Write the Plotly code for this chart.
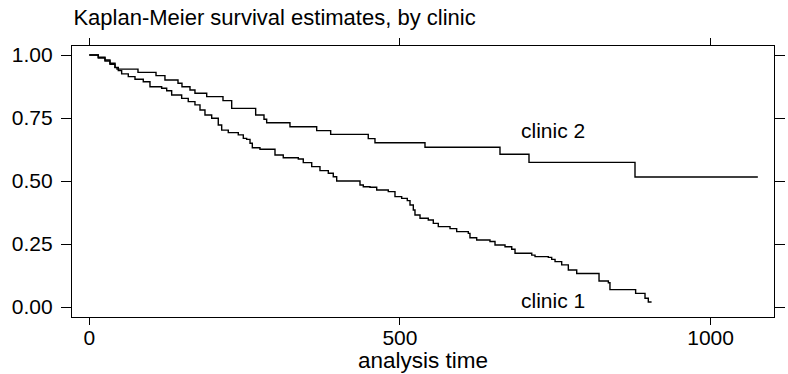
import plotly.graph_objects as go

# Clinic 1: step times (analysis time) and survival after each step
c1_time = [0, 14.5, 25.3, 33.3, 41.4, 46.7, 52.1, 62.8, 73.6, 86.9, 97.7, 116.5, 124.6,
           132.6, 148.7, 159.3, 170.1, 178.2, 186.2, 197.0, 207.6, 213.1, 223.7, 239.8,
           247.9, 253.3, 258.7, 262.4, 274.7, 298.9, 312.2, 336.4, 344.4, 358.0, 371.3,
           384.7, 392.7, 398.2, 435.7, 441.0, 451.8, 462.6, 481.2, 492.0, 502.8, 511.8,
           516.2, 521.5, 524.2, 532.3, 545.6, 553.7, 561.7, 580.6, 591.3, 610.0, 612.7,
           623.5, 644.9, 653.0, 669.1, 679.9, 685.2, 712.1, 717.4, 738.8, 744.2, 749.6,
           760.3, 771.0, 784.5, 820.4, 835.4, 838.0, 879.3, 894.4, 899.7, 905.0]
c1_surv = [1.0, 0.991, 0.980, 0.967, 0.951, 0.938, 0.925, 0.914, 0.904, 0.894, 0.874, 0.868,
           0.858, 0.841, 0.828, 0.815, 0.802, 0.782, 0.762, 0.749, 0.722, 0.702, 0.692,
           0.683, 0.669, 0.665, 0.650, 0.632, 0.626, 0.603, 0.592, 0.587, 0.573, 0.557,
           0.541, 0.531, 0.517, 0.500, 0.484, 0.477, 0.475, 0.464, 0.458, 0.438, 0.431,
           0.422, 0.405, 0.385, 0.365, 0.352, 0.345, 0.332, 0.319, 0.311, 0.299, 0.292,
           0.275, 0.266, 0.260, 0.246, 0.239, 0.229, 0.213, 0.206, 0.200, 0.197, 0.189,
           0.180, 0.167, 0.147, 0.133, 0.103, 0.096, 0.069, 0.054, 0.035, 0.020, 0.020]

# Clinic 2
c2_time = [0, 14.5, 25.3, 33.3, 41.4, 44.6, 78.4, 107.4, 121.8, 142.8, 149.2, 162.1, 170.1,
           189.0, 215.2, 229.2, 267.8, 281.2, 285.5, 323.0, 366.0, 388.5, 449.0, 459.8,
           540.3, 661.0, 707.7, 878.3, 1076.0]
c2_surv = [1.0, 0.988, 0.976, 0.963, 0.950, 0.944, 0.931, 0.918, 0.901, 0.888, 0.874, 0.861,
           0.848, 0.835, 0.819, 0.788, 0.762, 0.745, 0.731, 0.715, 0.700, 0.685, 0.668,
           0.652, 0.634, 0.606, 0.574, 0.516, 0.516]

x_ticks = [0, 500, 1000]
y_ticks = [0, 0.25, 0.5, 0.75, 1.0]
y_labels = ["0.00", "0.25", "0.50", "0.75", "1.00"]

labels = ["clinic 1", "clinic 2"]
label_x = [746, 746]
label_y = [0.026, 0.70]

FONT = "Liberation Sans, Arial, Helvetica, sans-serif"

fig = go.Figure()
fig.add_trace(go.Scatter(x=c1_time, y=c1_surv, mode="lines", line_shape="hv",
                         line=dict(color="black", width=1.4), showlegend=False))
fig.add_trace(go.Scatter(x=c2_time, y=c2_surv, mode="lines", line_shape="hv",
                         line=dict(color="black", width=1.4), showlegend=False))

for t, xx, yy in zip(labels, label_x, label_y):
    fig.add_annotation(x=xx, y=yy, text=t, showarrow=False, xanchor="center", yanchor="middle",
                       font=dict(family=FONT, size=21, color="black"))

# x-axis title as a paper-positioned annotation
fig.add_annotation(x=0.5, y=-0.159, xref="paper", yref="paper", text="analysis time",
                   showarrow=False, xanchor="center", yanchor="middle",
                   font=dict(family=FONT, size=22.5, color="black"))

fig.update_layout(
    width=788, height=374,
    margin=dict(l=72, r=14, t=46, b=57),
    paper_bgcolor="white", plot_bgcolor="white",
    font=dict(family=FONT, size=21, color="black"),
    title=dict(text="Kaplan-Meier survival estimates, by clinic", x=0.002, xref="paper",
               xanchor="left", y=0.955, yref="container", yanchor="middle",
               font=dict(family=FONT, size=22, color="black")),
)
fig.update_xaxes(range=[-27.8, 1102], tickvals=x_ticks, ticks="outside", ticklen=7,
                 tickwidth=1.3, tickcolor="black", showline=True, linecolor="black",
                 linewidth=1.3, mirror="allticks", showgrid=False, zeroline=False,
                 automargin=False, ticklabelstandoff=-5,
                 tickfont=dict(family=FONT, size=21))
fig.update_yaxes(range=[-0.0397, 1.0357], tickvals=y_ticks, ticktext=y_labels,
                 ticks="outside", ticklen=10, tickwidth=1.3, tickcolor="black",
                 showline=True, linecolor="black", linewidth=1.3, mirror="allticks",
                 automargin=False, ticklabelstandoff=4,
                 showgrid=False, zeroline=False, tickfont=dict(family=FONT, size=21))

fig.write_html("out.html")
